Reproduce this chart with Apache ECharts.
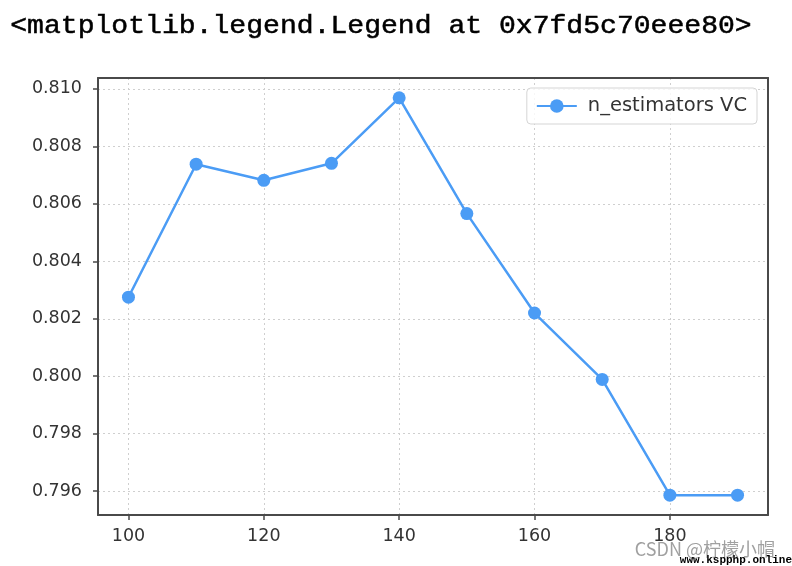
<!DOCTYPE html>
<html>
<head>
<meta charset="utf-8">
<script src="https://cdn.jsdelivr.net/npm/echarts@6/dist/echarts.min.js"></script>
<style>html,body{margin:0;padding:0;background:#fff}#c{width:792px;height:566px}</style>
</head>
<body>
<div id="c"></div>
<script>
const xValues = [100, 110, 120, 130, 140, 150, 160, 170, 180, 190];
const scores = [0.80275, 0.80738, 0.80682, 0.80741, 0.80969, 0.80566, 0.80220, 0.79989, 0.79586, 0.79586];
const xTicks = [100, 120, 140, 160, 180];
const yTicks = [0.796, 0.798, 0.800, 0.802, 0.804, 0.806, 0.808, 0.810];
const seriesName = 'n_estimators VC';
const titleText = '<matplotlib.legend.Legend at 0x7fd5c70eee80>';

const chart = echarts.init(document.getElementById('c'), null, {renderer: 'canvas'});
const lineColor = '#4b9cf5';
const frameColor = '#4a4a4a';
const gridLine = {show: true, lineStyle: {color: '#cfcfcf', type: [2, 3], width: 1}};
const X_MIN = 95.5, X_MAX = 194.5, Y_MIN = 0.79517, Y_MAX = 0.81038;
chart.setOption({
  animation: false,
  backgroundColor: '#fff',
  graphic: [
    {type: 'text', left: 10, top: 13, scaleX: 1.08,
     style: {text: titleText, fontFamily: '"Liberation Mono", monospace', fontSize: 26, fontWeight: 'normal',
       fill: '#000', stroke: '#000', lineWidth: 0.5}},
    {type: 'text', right: 17, bottom: 8,
     style: {text: 'CSDN @柠檬小帽', fontFamily: '"Noto Sans CJK SC", sans-serif', fontSize: 18, fill: '#a0a0a0'}},
    {type: 'text', right: 0, bottom: 0,
     style: {text: 'www.kspphp.online', fontFamily: '"Liberation Mono", monospace', fontSize: 11, fontWeight: 'bold', fill: '#000'}}
  ],
  grid: {left: 98, right: 24, top: 78, bottom: 51, show: false},
  legend: {
    data: [{name: seriesName}],
    right: 35, top: 88,
    orient: 'horizontal',
    itemWidth: 40, itemHeight: 17, itemGap: 10,
    padding: [8, 10, 8, 9],
    borderColor: '#d5d5d5', borderWidth: 1, borderRadius: 4,
    backgroundColor: 'rgba(255,255,255,0.8)',
    textStyle: {fontSize: 19.5, color: '#333', fontFamily: '"DejaVu Sans", sans-serif', padding: [0, 0, 0, 6]}
  },
  xAxis: [{
    type: 'value', min: X_MIN, max: X_MAX,
    axisLine: {show: true, onZero: false, lineStyle: {color: frameColor, width: 2}},
    axisTick: {show: true, length: 5, customValues: xTicks, lineStyle: {color: frameColor, width: 1.5}},
    axisLabel: {customValues: xTicks, fontSize: 17.5, color: '#333', margin: 12, fontFamily: '"DejaVu Sans", sans-serif'},
    splitLine: gridLine
  }, {
    type: 'value', min: X_MIN, max: X_MAX, position: 'top',
    axisLine: {show: true, onZero: false, lineStyle: {color: frameColor, width: 2}},
    axisTick: {show: false}, axisLabel: {show: false}, splitLine: {show: false}
  }],
  yAxis: [{
    type: 'value', min: Y_MIN, max: Y_MAX,
    axisLine: {show: true, onZero: false, lineStyle: {color: frameColor, width: 2}},
    axisTick: {show: true, length: 5, customValues: yTicks, lineStyle: {color: frameColor, width: 1.5}},
    axisLabel: {customValues: yTicks, fontSize: 17.5, color: '#333', margin: 16, fontFamily: '"DejaVu Sans", sans-serif',
      formatter: v => v.toFixed(3)},
    splitLine: gridLine
  }, {
    type: 'value', min: Y_MIN, max: Y_MAX, position: 'right',
    axisLine: {show: true, onZero: false, lineStyle: {color: frameColor, width: 2}},
    axisTick: {show: false}, axisLabel: {show: false}, splitLine: {show: false}
  }],
  series: [{
    name: seriesName, type: 'line',
    data: xValues.map((x, i) => [x, scores[i]]),
    symbol: 'circle', symbolSize: 13,
    lineStyle: {color: lineColor, width: 2.5},
    itemStyle: {color: lineColor}
  }]
});
</script>
</body>
</html>
